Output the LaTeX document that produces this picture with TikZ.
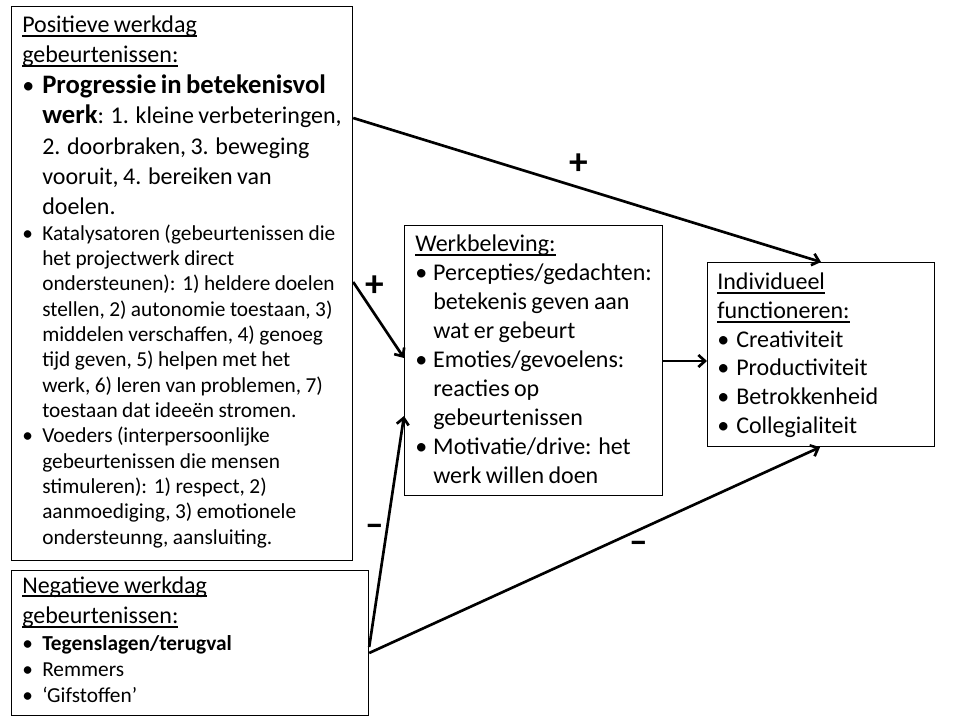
\documentclass[tikz,border=0pt]{standalone}
\usepackage{fontspec}
\setmainfont{Carlito}
\usetikzlibrary{arrows.meta,calc}
\newlength\myulw
\newcommand{\myul}[1]{\leavevmode\settowidth{\myulw}{#1}\rlap{\rule[-3pt]{\myulw}{1.2pt}}#1}
\newcommand{\myfs}[2]{\fontsize{#1}{#2}\selectfont}
\newcommand{\mybul}[2]{\par\hangindent=#1\hangafter=1\noindent\makebox[#1][l]{•}#2\par}
\newcommand{\mybig}[1]{{\fontsize{20}{22.8}\selectfont\bfseries #1}}
\begin{document}
\begin{tikzpicture}[x=0.75pt,y=-0.75pt,
 box/.style={draw=black, line width=0.9pt, inner sep=0pt, anchor=north west, fill=white},
 txt/.style={inner sep=0pt, anchor=base west, align=left},
 arr/.style={line width=2pt, -{Straight Barb[length=5pt,width=9pt]}},
 sign/.style={inner sep=0pt, font=\fontsize{28}{32}\selectfont\bfseries}]

\fill[white] (0,0) rectangle (960,720);
\useasboundingbox (0,0) rectangle (960,720);

\node[box, minimum width=255.75pt, minimum height=415.5pt] (pos) at (11,6) {};
\node[box, minimum width=267.75pt, minimum height=108.75pt] (neg) at (11,570) {};
\node[box, minimum width=193.5pt, minimum height=202.5pt] (werk) at (404,225) {};
\node[box, minimum width=170.25pt, minimum height=138pt] (indiv) at (707,262) {};

\node[txt, text width=250pt] (postxt) at (22,33) {%
{\myfs{18}{22.5}\myul{Positieve werkdag}\newline\myul{gebeurtenissen:}\par}%
{\myfs{18}{22.8}\mybul{15pt}{\mybig{Progressie in betekenisvol}\newline\mybig{werk}: 1. kleine verbeteringen,\newline 2. doorbraken, 3. beweging\newline vooruit, 4. bereiken van\newline doelen.}}%
{\myfs{16}{19}\mybul{15pt}{Katalysatoren (gebeurtenissen die\newline het projectwerk direct\newline ondersteunen): 1) heldere doelen\newline stellen, 2) autonomie toestaan, 3)\newline middelen verschaffen, 4) genoeg\newline tijd geven, 5) helpen met het\newline werk, 6) leren van problemen, 7)\newline toestaan dat ideeën stromen.}%
\mybul{15pt}{Voeders (interpersoonlijke\newline gebeurtenissen die mensen\newline stimuleren): 1) respect, 2)\newline aanmoediging, 3) emotionele\newline ondersteunng, aansluiting.}}};

\node[txt, text width=250pt] (negtxt) at (22,593) {%
{\myfs{18}{23}\myul{Negatieve werkdag}\newline\myul{gebeurtenissen:}\par}%
{\myfs{16}{19.8}\mybul{15pt}{\textbf{Tegenslagen/terugval}}%
\mybul{15pt}{Remmers}%
\mybul{15pt}{‘Gifstoffen’}}};

\node[txt, text width=230pt] (werktxt) at (415,252) {%
{\myfs{18}{21.7}\myul{Werkbeleving:}\par
\mybul{13.5pt}{Percepties/gedachten:\newline betekenis geven aan\newline wat er gebeurt}%
\mybul{13.5pt}{Emoties/gevoelens:\newline reacties op\newline gebeurtenissen}%
\mybul{13.5pt}{Motivatie/drive: het\newline werk willen doen}}};

\node[txt, text width=200pt] (indivtxt) at (717,290) {%
{\myfs{18}{21.5}\myul{Individueel}\newline\myul{functioneren:}\par
\mybul{14.25pt}{Creativiteit}%
\mybul{14.25pt}{Productiviteit}%
\mybul{14.25pt}{Betrokkenheid}%
\mybul{14.25pt}{Collegialiteit}}};

\draw[arr] ($(pos.north east)+(0,112)$) -- ($(indiv.north west)+(114,0)$);
\draw[arr] ($(pos.north east)+(0,276)$) -- ($(werk.north west)+(0,133)$);
\draw[arr] ($(werk.north east)+(0,136)$) -- ($(indiv.north west)+(0,99)$);
\draw[arr] ($(neg.north east)+(0,77)$) -- ($(werk.north west)+(0,191)$);
\draw[arr] ($(neg.north east)+(0,83)$) -- ($(indiv.south west)+(113,0)$);

\node[sign] (p1) at (579,164) {+};
\node[sign] (p2) at (374.5,286) {+};
\node[sign] (m1) at (374.5,530) {–};
\node[sign] (m2) at (638.5,547) {–};
\end{tikzpicture}
\end{document}
